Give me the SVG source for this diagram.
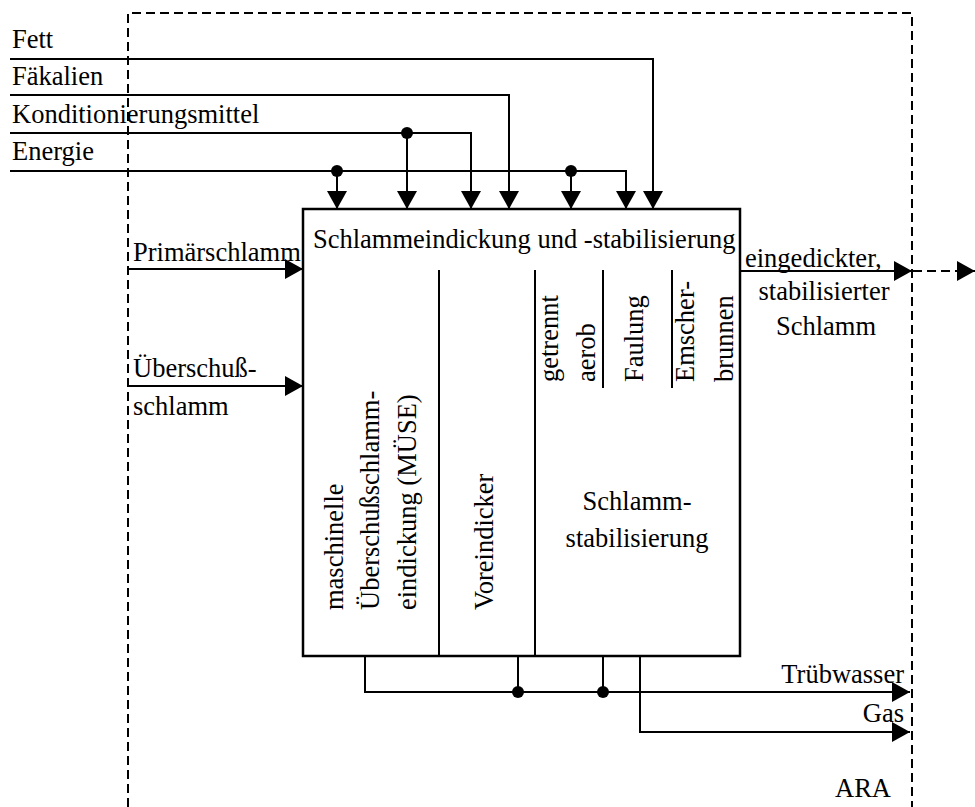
<svg xmlns="http://www.w3.org/2000/svg" width="975" height="807" viewBox="0 0 975 807" font-family="Liberation Serif, serif">
<defs>
<marker id="arrow" markerUnits="userSpaceOnUse" markerWidth="18" markerHeight="20" refX="18" refY="10" orient="auto" viewBox="0 0 18 20">
<path d="M0,0 L18,10 L0,20 z" fill="#000"/>
</marker>
</defs>
<style>
text{font-family:'Liberation Serif','Times New Roman',serif;font-size:26.5px;fill:#000}
.ln{fill:none;stroke:#000;stroke-width:2}
.dash{fill:none;stroke:#000;stroke-width:2;stroke-dasharray:9,5}
.box{fill:#fff;stroke:#000;stroke-width:2.5}
.div{stroke:#000;stroke-width:2}
.dot{fill:#000}
</style>
<rect width="975" height="807" fill="#fff"/>
<g id="ara-boundary">
<path class="dash" d="M128,807 V13 H912 V807"/>
<text x="835" y="797">ARA</text>
</g>
<g id="process-box">
<rect class="box" x="303" y="209" width="437" height="447"/>
<text x="313" y="248">Schlammeindickung und -stabilisierung</text>
<line class="div" x1="439" y1="270" x2="439" y2="656"/>
<line class="div" x1="535" y1="270" x2="535" y2="656"/>
<line class="div" x1="603" y1="270" x2="603" y2="388"/>
<line class="div" x1="672" y1="270" x2="672" y2="388"/>
<text transform="translate(343,610) rotate(-90)">maschinelle</text>
<text transform="translate(379,610) rotate(-90)">Überschußschlamm-</text>
<text transform="translate(416,610) rotate(-90)">eindickung (MÜSE)</text>
<text transform="translate(493,610) rotate(-90)">Voreindicker</text>
<text transform="translate(558,382) rotate(-90)">getrennt</text>
<text transform="translate(595,382) rotate(-90)">aerob</text>
<text transform="translate(643,382) rotate(-90)">Faulung</text>
<text transform="translate(694,382) rotate(-90)">Emscher-</text>
<text transform="translate(733,382) rotate(-90)">brunnen</text>
<text x="637" y="510" text-anchor="middle">Schlamm-</text>
<text x="637" y="547" text-anchor="middle">stabilisierung</text>
</g>
<g id="connectors">
<path class="ln" d="M10,59 H653 V209" marker-end="url(#arrow)"/>
<path class="ln" d="M10,95 H509 V209" marker-end="url(#arrow)"/>
<path class="ln" d="M10,133 H471 V209" marker-end="url(#arrow)"/>
<path class="ln" d="M407,133 V209" marker-end="url(#arrow)"/>
<path class="ln" d="M10,171 H626 V209" marker-end="url(#arrow)"/>
<path class="ln" d="M337,171 V209" marker-end="url(#arrow)"/>
<path class="ln" d="M571,171 V209" marker-end="url(#arrow)"/>
<circle class="dot" cx="407" cy="133" r="6"/>
<circle class="dot" cx="337" cy="171" r="6"/>
<circle class="dot" cx="571" cy="171" r="6"/>
<path class="ln" d="M128,269 H303" marker-end="url(#arrow)"/>
<path class="ln" d="M128,386 H303" marker-end="url(#arrow)"/>
<path class="ln" d="M740,271 H912" marker-end="url(#arrow)"/>
<path class="dash" d="M913,271 H975" marker-end="url(#arrow)"/>
<path class="ln" d="M365,656 V692 H910" marker-end="url(#arrow)"/>
<path class="ln" d="M518,656 V692"/>
<path class="ln" d="M603,656 V692"/>
<circle class="dot" cx="518" cy="692" r="6"/>
<circle class="dot" cx="603" cy="692" r="6"/>
<path class="ln" d="M640,656 V732 H910" marker-end="url(#arrow)"/>
<text x="12" y="48">Fett</text>
<text x="12" y="85">Fäkalien</text>
<text x="12" y="123">Konditionierungsmittel</text>
<text x="12" y="160">Energie</text>
<text x="133" y="261">Primärschlamm</text>
<text x="133" y="377">Überschuß-</text>
<text x="133" y="415">schlamm</text>
<text x="745" y="267">eingedickter,</text>
<text x="824" y="300" text-anchor="middle">stabilisierter</text>
<text x="826" y="335" text-anchor="middle">Schlamm</text>
<text x="904" y="683" text-anchor="end">Trübwasser</text>
<text x="904" y="722" text-anchor="end">Gas</text>
</g>
</svg>
